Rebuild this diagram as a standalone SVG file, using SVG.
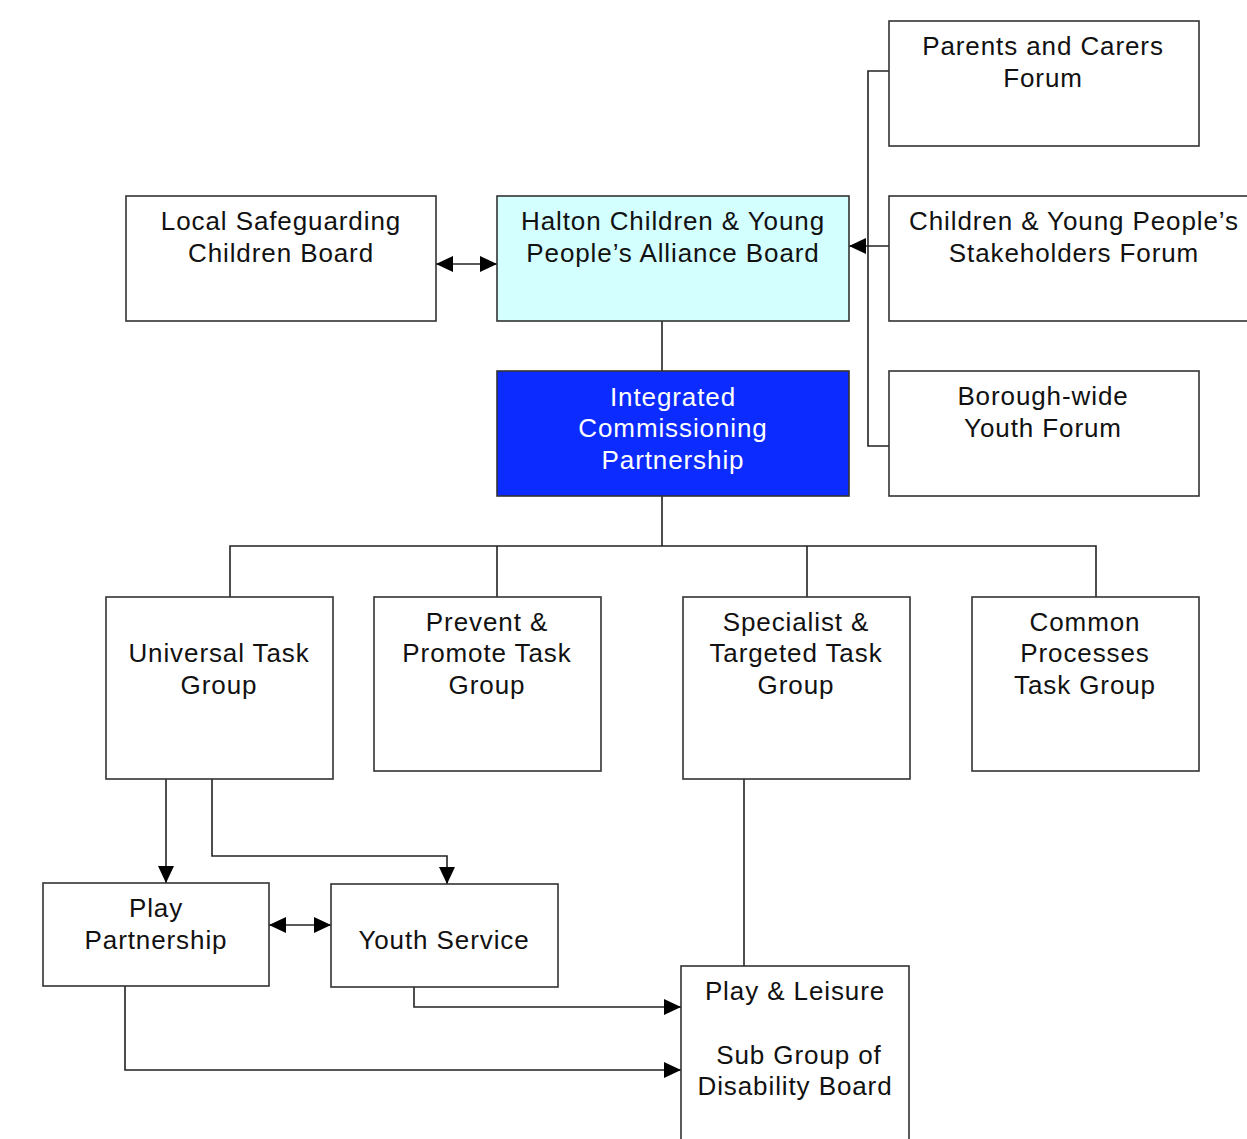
<svg xmlns="http://www.w3.org/2000/svg" width="1247" height="1139" viewBox="0 0 1247 1139">
<style>
.box{fill:#fff;stroke:#333;stroke-width:1.6}
.t{font-family:"Liberation Sans",Arial,sans-serif;font-size:26px;letter-spacing:0.9px;fill:#111;text-anchor:middle}
.w{fill:#fff}
.c{fill:none;stroke:#222;stroke-width:1.6}
</style>
<defs>
<marker id="ah" markerUnits="userSpaceOnUse" markerWidth="17" markerHeight="17" viewBox="0 0 17 17" refX="17" refY="8.5" orient="auto-start-reverse">
<path d="M0,0.5 L17,8.5 L0,16.5 Z" fill="#000"/>
</marker>
</defs>
<rect width="1247" height="1139" fill="#fff"/>
<g id="connectors">
<path class="c" d="M889,71 H868 V446 H889"/>
<path class="c" d="M889,246 H849" marker-end="url(#ah)"/>
<path class="c" d="M436,264 H497" marker-start="url(#ah)" marker-end="url(#ah)"/>
<path class="c" d="M662,321 V371"/>
<path class="c" d="M662,496 V546 M230,597 V546 H1096 V597 M497,546 V597 M807,546 V597"/>
<path class="c" d="M166,779 V883" marker-end="url(#ah)"/>
<path class="c" d="M212,779 V856 H447 V884" marker-end="url(#ah)"/>
<path class="c" d="M269,925 H331" marker-start="url(#ah)" marker-end="url(#ah)"/>
<path class="c" d="M414,987 V1007 H681" marker-end="url(#ah)"/>
<path class="c" d="M125,986 V1070 H681" marker-end="url(#ah)"/>
<path class="c" d="M744,779 V966"/>
</g>
<g id="parents">
<rect class="box" x="889" y="21" width="310" height="125"/>
<text class="t" x="1043" y="55">Parents and Carers</text>
<text class="t" x="1043" y="87">Forum</text>
</g>
<g id="stakeholders">
<rect class="box" x="889" y="196" width="370" height="125"/>
<text class="t" x="1074" y="230">Children &amp; Young People’s</text>
<text class="t" x="1074" y="262">Stakeholders Forum</text>
</g>
<g id="borough">
<rect class="box" x="889" y="371" width="310" height="125"/>
<text class="t" x="1043" y="405">Borough-wide</text>
<text class="t" x="1043" y="437">Youth Forum</text>
</g>
<g id="lscb">
<rect class="box" x="126" y="196" width="310" height="125"/>
<text class="t" x="281" y="230">Local Safeguarding</text>
<text class="t" x="281" y="262">Children Board</text>
</g>
<g id="halton">
<rect class="box" x="497" y="196" width="352" height="125" style="fill:#d3ffff"/>
<text class="t" x="673" y="230">Halton Children &amp; Young</text>
<text class="t" x="673" y="262">People’s Alliance Board</text>
</g>
<g id="icp">
<rect class="box" x="497" y="371" width="352" height="125" style="fill:#0c2cff"/>
<text class="t w" x="673" y="406">Integrated</text>
<text class="t w" x="673" y="437">Commissioning</text>
<text class="t w" x="673" y="469">Partnership</text>
</g>
<g id="universal">
<rect class="box" x="106" y="597" width="227" height="182"/>
<text class="t" x="219" y="662">Universal Task</text>
<text class="t" x="219" y="694">Group</text>
</g>
<g id="prevent">
<rect class="box" x="374" y="597" width="227" height="174"/>
<text class="t" x="487" y="631">Prevent &amp;</text>
<text class="t" x="487" y="662">Promote Task</text>
<text class="t" x="487" y="694">Group</text>
</g>
<g id="specialist">
<rect class="box" x="683" y="597" width="227" height="182"/>
<text class="t" x="796" y="631">Specialist &amp;</text>
<text class="t" x="796" y="662">Targeted Task</text>
<text class="t" x="796" y="694">Group</text>
</g>
<g id="common">
<rect class="box" x="972" y="597" width="227" height="174"/>
<text class="t" x="1085" y="631">Common</text>
<text class="t" x="1085" y="662">Processes</text>
<text class="t" x="1085" y="694">Task Group</text>
</g>
<g id="play">
<rect class="box" x="43" y="883" width="226" height="103"/>
<text class="t" x="156" y="917">Play</text>
<text class="t" x="156" y="949">Partnership</text>
</g>
<g id="youth">
<rect class="box" x="331" y="884" width="227" height="103"/>
<text class="t" x="444" y="949">Youth Service</text>
</g>
<g id="playleisure">
<rect class="box" x="681" y="966" width="228" height="190"/>
<text class="t" x="795" y="1000">Play &amp; Leisure</text>
<text class="t" x="799" y="1064">Sub Group of</text>
<text class="t" x="795" y="1095">Disability Board</text>
</g>
</svg>
